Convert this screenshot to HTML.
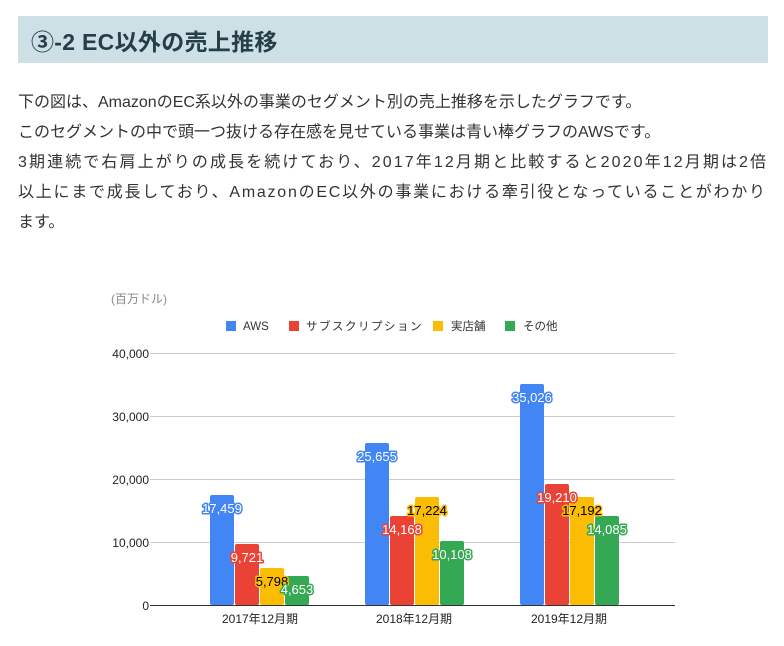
<!DOCTYPE html>
<html><head><meta charset="utf-8"><style>
body{margin:0;background:#fff;width:784px;height:646px;overflow:hidden;font-family:"Liberation Sans","Noto Sans CJK JP",sans-serif;}
.h{position:absolute;left:18px;top:16px;width:750px;height:47px;background:#cde0e6;}
.h span{position:absolute;left:13px;top:7px;font-size:23px;font-weight:bold;color:#263e48;letter-spacing:0.3px;}
.p{position:absolute;left:18px;top:88px;width:770px;font-size:16px;line-height:30px;color:#333;white-space:nowrap;}
svg{position:absolute;left:0;top:0;}
</style></head><body>
<div class="h"><span>③-2 EC以外の売上推移</span></div>
<div class="p">下の図は、AmazonのEC系以外の事業のセグメント別の売上推移を示したグラフです。<br>このセグメントの中で頭一つ抜ける存在感を見せている事業は青い棒グラフのAWSです。<br><span style="letter-spacing:2.1px">3期連続で右肩上がりの成長を続けており、2017年12月期と比較すると2020年12月期は2倍</span><br><span style="letter-spacing:1.75px">以上にまで成長しており、AmazonのEC以外の事業における牽引役となっていることがわかり</span><br>ます。</div>
<svg width="784" height="646" font-family="Liberation Sans, Noto Sans CJK JP, sans-serif">
<text x="111" y="303" font-size="12" fill="#888">(百万ドル)</text>
<g font-size="11.5" fill="#333">
<rect x="226" y="321" width="10" height="10" fill="#4285f4"/><text x="243" y="330">AWS</text>
<rect x="289" y="321" width="10" height="10" fill="#ea4335"/><text x="306" y="330" letter-spacing="1.5">サブスクリプション</text>
<rect x="433" y="321" width="10" height="10" fill="#fbbc04"/><text x="451" y="330">実店舗</text>
<rect x="505" y="321" width="10" height="10" fill="#34a853"/><text x="523" y="330">その他</text>
</g>
<g stroke="#ccc" stroke-width="1">
<line x1="150" x2="675" y1="353.5" y2="353.5"/><line x1="150" x2="675" y1="416.5" y2="416.5"/><line x1="150" x2="675" y1="479.5" y2="479.5"/><line x1="150" x2="675" y1="542.5" y2="542.5"/>
</g>
<g font-size="12" fill="#222" text-anchor="end">
<text x="149" y="358">40,000</text><text x="149" y="421">30,000</text><text x="149" y="484">20,000</text><text x="149" y="547">10,000</text><text x="149" y="610">0</text>
</g>
<g>
<rect x="210" y="495" width="24" height="110" fill="#4285f4" rx="2"/>
<rect x="235" y="544" width="24" height="61" fill="#ea4335" rx="2"/>
<rect x="260" y="568" width="24" height="37" fill="#fbbc04" rx="2"/>
<rect x="285" y="576" width="24" height="29" fill="#34a853" rx="2"/>
<rect x="365" y="443" width="24" height="162" fill="#4285f4" rx="2"/>
<rect x="390" y="516" width="24" height="89" fill="#ea4335" rx="2"/>
<rect x="415" y="497" width="24" height="108" fill="#fbbc04" rx="2"/>
<rect x="440" y="541" width="24" height="64" fill="#34a853" rx="2"/>
<rect x="520" y="384" width="24" height="221" fill="#4285f4" rx="2"/>
<rect x="545" y="484" width="24" height="121" fill="#ea4335" rx="2"/>
<rect x="570" y="497" width="24" height="108" fill="#fbbc04" rx="2"/>
<rect x="595" y="516" width="24" height="89" fill="#34a853" rx="2"/>
</g>
<line x1="150" x2="675" y1="605.5" y2="605.5" stroke="#333"/>
<g font-size="13" text-anchor="middle" stroke-width="3" paint-order="stroke" stroke-linejoin="round">
<text x="222" y="513" fill="#fff" stroke="#4285f4">17,459</text>
<text x="247" y="562" fill="#fff" stroke="#ea4335">9,721</text>
<text x="272" y="586" fill="#000" stroke="#fbbc04">5,798</text>
<text x="297" y="594" fill="#fff" stroke="#34a853">4,653</text>
<text x="377" y="461" fill="#fff" stroke="#4285f4">25,655</text>
<text x="402" y="534" fill="#fff" stroke="#ea4335">14,168</text>
<text x="427" y="515" fill="#000" stroke="#fbbc04">17,224</text>
<text x="452" y="559" fill="#fff" stroke="#34a853">10,108</text>
<text x="532" y="402" fill="#fff" stroke="#4285f4">35,026</text>
<text x="557" y="502" fill="#fff" stroke="#ea4335">19,210</text>
<text x="582" y="515" fill="#000" stroke="#fbbc04">17,192</text>
<text x="607" y="534" fill="#fff" stroke="#34a853">14,085</text>
</g>
<g font-size="12" fill="#222" text-anchor="middle">
<text x="260" y="623">2017年12月期</text><text x="414" y="623">2018年12月期</text><text x="569" y="623">2019年12月期</text>
</g>
</svg>
</body></html>
